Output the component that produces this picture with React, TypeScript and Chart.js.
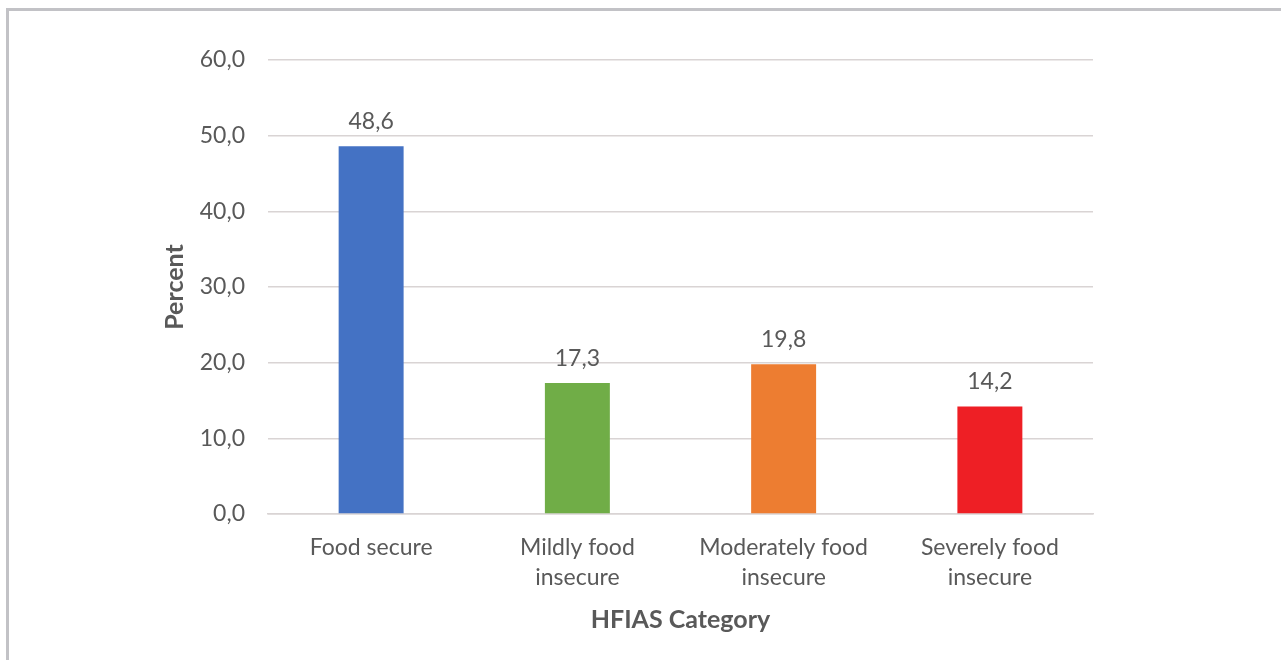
import React, { useEffect, useRef } from "react";
import { Chart, registerables } from "chart.js";

Chart.register(...registerables);

const categories: string[][] = [
  ["Food secure"],
  ["Mildly food", "insecure"],
  ["Moderately food", "insecure"],
  ["Severely food", "insecure"],
];
const percentValues: number[] = [48.6, 17.3, 19.8, 14.2];
const barColors: string[] = ["#4472C4", "#70AD47", "#ED7D31", "#EE1F25"];
const yTickMin = 0;
const yTickMax = 60;
const yTickStep = 10;

const FONT = "Lato, 'Open Sans', sans-serif";
const TEXT = "#595959";

const valueLabelPlugin = {
  id: "valueLabels",
  afterDatasetsDraw(chart: any) {
    const ctx = chart.ctx;
    const meta = chart.getDatasetMeta(0);
    const data = chart.data.datasets[0].data as number[];
    ctx.save();
    ctx.font = `23px ${FONT}`;
    ctx.fillStyle = TEXT;
    ctx.textAlign = "center";
    ctx.textBaseline = "middle";
    meta.data.forEach((el: any, i: number) => {
      ctx.fillText(data[i].toFixed(1).replace(".", ","), el.x, el.y - 25);
    });
    ctx.restore();
  },
};

export default function App() {
  const ref = useRef<HTMLCanvasElement | null>(null);
  useEffect(() => {
    document.body.style.margin = "0";
    const chart = new Chart(ref.current as HTMLCanvasElement, {
      type: "bar",
      data: {
        labels: categories,
        datasets: [
          {
            data: percentValues,
            backgroundColor: barColors,
            borderWidth: 0,
            barPercentage: 0.63,
            categoryPercentage: 0.5,
          },
        ],
      },
      options: {
        responsive: false,
        animation: false,
        layout: { padding: { left: 163, right: 188, top: 60, bottom: 28 } },
        plugins: {
          legend: { display: false },
          tooltip: { enabled: false },
        },
        scales: {
          x: {
            grid: { display: false, drawTicks: false },
            border: { display: true, color: "#d9d4d4", width: 1.5 },
            afterFit: (scale: any) => {
              scale.height = 118;
            },
            ticks: {
              padding: 19,
              color: TEXT,
              font: { family: FONT, size: 23, lineHeight: "30px" },
              maxRotation: 0,
            },
            title: {
              display: true,
              text: "HFIAS Category",
              color: TEXT,
              font: { family: FONT, size: 25, weight: "bold", lineHeight: "24px" },
              padding: { top: 0, bottom: 0 },
            },
          },
          y: {
            min: yTickMin,
            max: yTickMax,
            grid: { color: "#d9d4d4", lineWidth: 1.5, drawTicks: false },
            border: { display: false },
            afterFit: (scale: any) => {
              scale.width = 105;
            },
            ticks: {
              stepSize: yTickStep,
              padding: 23,
              color: TEXT,
              font: { family: FONT, size: 23 },
              callback: (v: any) => Number(v).toFixed(1).replace(".", ","),
            },
            title: {
              display: true,
              text: "Percent",
              color: TEXT,
              font: { family: FONT, size: 25, weight: "bold", lineHeight: "24px" },
              padding: 0,
            },
          },
        },
      },
      plugins: [valueLabelPlugin],
    });
    return () => chart.destroy();
  }, []);
  return (
    <div style={{ position: "fixed", left: 0, top: 0, width: 1281, height: 660, background: "#fff" }}>
      <div
        style={{
          position: "absolute",
          left: 6,
          top: 8,
          right: 0,
          bottom: 0,
          borderLeft: "3px solid #c2c2c6",
          borderTop: "3px solid #c2c2c6",
        }}
      />
      <canvas ref={ref} width={1281} height={660} style={{ position: "absolute", left: 0, top: 0 }} />
    </div>
  );
}
